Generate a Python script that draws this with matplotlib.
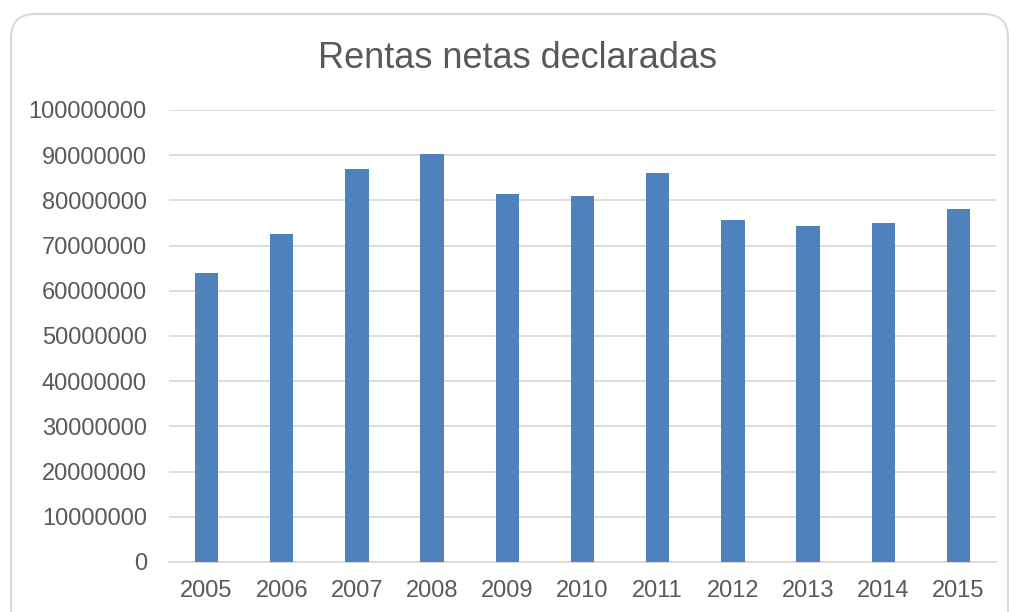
import matplotlib.pyplot as plt
from matplotlib.patches import FancyBboxPatch

# data
years = ['2005', '2006', '2007', '2008', '2009', '2010',
         '2011', '2012', '2013', '2014', '2015']
rentas = [64000000, 72600000, 86900000, 90300000, 81400000, 80900000,
          86000000, 75700000, 74300000, 75100000, 78200000]

plt.rcParams['font.family'] = ['Liberation Sans', 'DejaVu Sans']
text_color = '#595959'
grid_color = '#d9d9d9'
bar_color = '#4f81bd'

fig = plt.figure(figsize=(10.09, 6.12), dpi=100)

#   Rounded chart frame (behind the axes)
frame = FancyBboxPatch((11 / 1009, -0.2), (1008 - 11) / 1009, 1 - 14 / 612 + 0.2,
                       boxstyle='round,pad=0,rounding_size=0.024',
                       transform=fig.transFigure, facecolor='white',
                       edgecolor=grid_color, linewidth=1.5,
                       mutation_aspect=1009 / 612, zorder=-10)
fig.patches.append(frame)

ax = fig.add_axes([169 / 1009, 1 - 562 / 612, (996 - 169) / 1009, (562 - 110) / 612])
ax.set_facecolor('none')
ax.set_zorder(5)

x = range(len(years))
ax.bar(x, rentas, width=0.31, color=bar_color, zorder=3)

ax.set_ylim(0, 100000000)
ax.set_yticks(range(0, 100000001, 10000000))
ax.set_yticklabels([str(v) for v in range(0, 100000001, 10000000)])
ax.set_xlim(-0.5, len(years) - 0.5)
ax.set_xticks(list(x))
ax.set_xticklabels(years)

ax.yaxis.grid(True, color=grid_color, linewidth=1.3, zorder=0)
ax.set_axisbelow(True)
for side in ['top', 'right', 'left']:
    ax.spines[side].set_visible(False)
ax.spines['bottom'].set_color(grid_color)
ax.spines['bottom'].set_linewidth(1.3)
ax.tick_params(axis='both', length=0, labelsize=17, colors=text_color)
ax.tick_params(axis='y', pad=16)
ax.tick_params(axis='x', pad=13)

fig.text(517.5 / 1009, 1 - 59 / 612, 'Rentas netas declaradas', ha='center',
         va='center', fontsize=26, color=text_color)

fig.savefig('out.png', dpi=100)
